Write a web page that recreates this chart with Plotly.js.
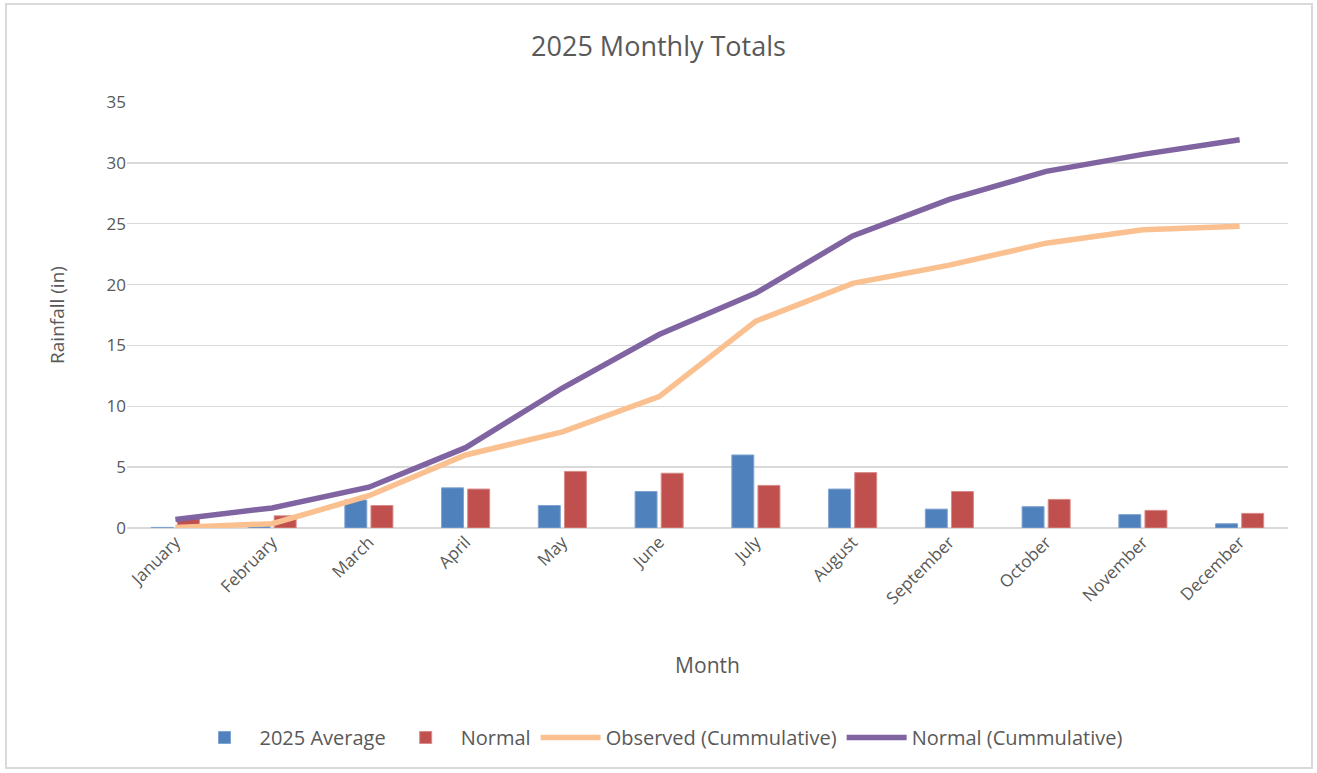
<!DOCTYPE html>
<html>
<head>
<meta charset="utf-8">
<script src="https://cdn.plot.ly/plotly-3.0.1.min.js"></script>
<style>
  html, body { margin: 0; padding: 0; background: #ffffff; }
  #frame { position: absolute; left: 5px; top: 3px; width: 1308px; height: 766px; border: 2px solid #d9d9d9; box-sizing: border-box; }
  #chart { position: absolute; left: 0; top: 0; width: 1317px; height: 773px; }
</style>
</head>
<body>
<div id="frame"></div>
<div id="chart"></div>
<script>
const months = ["January","February","March","April","May","June","July","August","September","October","November","December"];
const avg2025 = [0.05, 0.25, 2.3, 3.3, 1.85, 3.0, 6.0, 3.2, 1.55, 1.75, 1.1, 0.35];
const normal = [0.8, 1.0, 1.85, 3.2, 4.65, 4.5, 3.5, 4.55, 3.0, 2.35, 1.45, 1.2];
const observedCum = [0.05, 0.35, 2.65, 6.0, 7.9, 10.8, 17.0, 20.1, 21.6, 23.4, 24.5, 24.8];
const normalCum = [0.7, 1.65, 3.35, 6.6, 11.5, 15.9, 19.3, 24.0, 27.0, 29.3, 30.7, 31.9];

const font = "Open Sans, Noto Sans, sans-serif";
const traces = [
  { type: "bar", name: "2025 Average", x: months, y: avg2025,
    marker: { color: "#4F81BD", line: { color: "#7fa3d1", width: 1 } } },
  { type: "bar", name: "Normal", x: months, y: normal,
    marker: { color: "#C0504D", line: { color: "#d88a88", width: 1 } } },
  { type: "scatter", mode: "lines", name: "Observed (Cummulative)", x: months, y: observedCum,
    line: { color: "#FAC090", width: 5.5 } },
  { type: "scatter", mode: "lines", name: "Normal (Cummulative)", x: months, y: normalCum,
    line: { color: "#8064A2", width: 5.5 } }
];

const layout = {
  width: 1317, height: 773,
  paper_bgcolor: "rgba(0,0,0,0)", plot_bgcolor: "rgba(0,0,0,0)",
  margin: { l: 127, r: 29, t: 102, b: 244.5, autoexpand: false },
  font: { family: font, color: "#595959" },
  title: { text: "2025 Monthly Totals", x: 0.5, xanchor: "center", y: 0.94, yanchor: "middle",
           font: { family: font, size: 27, color: "#595959" } },
  barmode: "group", bargap: 0.46, bargroupgap: 0.16,
  xaxis: {
    type: "category", tickangle: -45, tickfont: { size: 17, color: "#595959" },
    showgrid: false, showline: false, zeroline: false, ticks: "", automargin: false,
    title: { text: "Month", font: { size: 21, color: "#595959" }, standoff: 50 }
  },
  yaxis: {
    range: [0, 35], dtick: 5, tickfont: { size: 17, color: "#595959" },
    gridcolor: "#d9d9d9", gridwidth: 1.5, zeroline: true, zerolinecolor: "#d9d9d9", zerolinewidth: 2,
    showline: false, ticks: "", ticklen: 0, automargin: false,
    title: { text: "Rainfall (in)", font: { size: 19, color: "#595959" }, standoff: 36 }
  },
  legend: {
    orientation: "h", x: 0.5, xanchor: "center", xref: "container",
    y: 0.046, yanchor: "middle", yref: "container",
    font: { size: 20, color: "#595959" }, itemwidth: 60, traceorder: "normal"
  },
  showlegend: true
};

Plotly.newPlot("chart", traces, layout, { displayModeBar: false, staticPlot: true });
</script>
</body>
</html>
